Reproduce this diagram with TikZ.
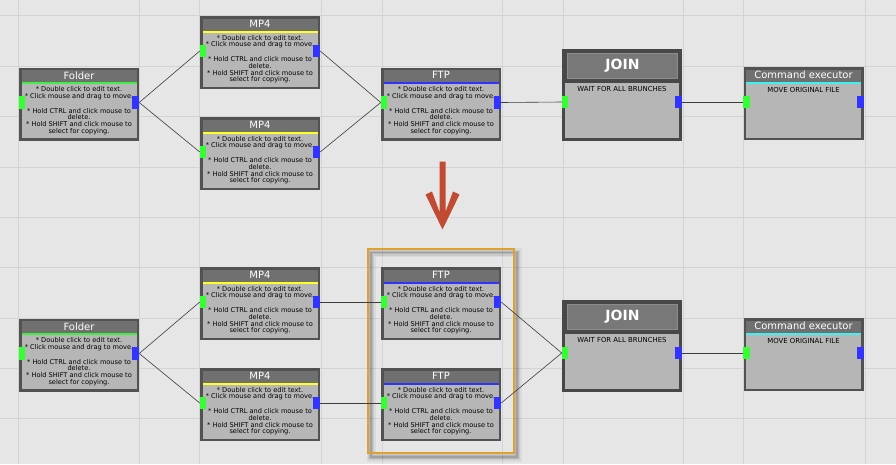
\documentclass[tikz,border=0pt]{standalone}
\usepackage{fontspec}
\setmainfont{DejaVu Sans}
\definecolor{bg}{RGB}{230,230,230}
\definecolor{gridc}{RGB}{211,211,211}
\definecolor{frameC}{RGB}{82,82,82}
\definecolor{joinFrame}{RGB}{72,72,72}
\definecolor{titleC}{RGB}{112,112,112}
\definecolor{joinTitleC}{RGB}{120,120,120}
\definecolor{joinTitleEdge}{RGB}{140,140,140}
\definecolor{bodyC}{RGB}{182,182,182}
\definecolor{portG}{RGB}{51,255,51}
\definecolor{portB}{RGB}{51,51,255}
\definecolor{lnGreen}{RGB}{64,240,64}
\definecolor{lnYellow}{RGB}{255,255,40}
\definecolor{lnBlue}{RGB}{50,50,255}
\definecolor{lnCyan}{RGB}{64,240,240}
\definecolor{arrowC}{RGB}{192,74,50}
\definecolor{orangeC}{RGB}{224,160,48}
\definecolor{connC}{RGB}{60,60,60}
\tikzset{
  framebox/.style={fill=frameC, draw=none, inner sep=0pt, anchor=north west,
    minimum width=120pt, minimum height=73pt},
  titletext/.style={text=white, inner sep=0pt, font=\fontsize{10}{11}\selectfont},
  bodytext/.style={text=black, inner sep=0pt, anchor=north, align=center,
    font=\fontsize{6.6}{6.7}\selectfont},
  smalltext/.style={text=black, inner sep=0pt, font=\fontsize{6.9}{7}\selectfont},
  jointitle/.style={fill=joinTitleC, draw=joinTitleEdge, line width=1pt, inner sep=0pt,
    minimum width=110pt, minimum height=25pt, text=white,
    font=\fontsize{14}{15}\selectfont\bfseries},
  inport/.style={fill=portG, draw=none, inner sep=0pt, minimum width=6.5pt, minimum height=12.5pt},
  outport/.style={fill=portB, draw=none, inner sep=0pt, minimum width=7pt, minimum height=12.5pt},
  conn/.style={draw=connC, line width=0.6pt},
  gridline/.style={draw=gridc, line width=1pt}
}
\newcommand{\helptext}{{*} Double click to edit text.\\{*} Click mouse and drag to move.\\[8.2pt]{*} Hold CTRL and click mouse to\\delete.\\{*} Hold SHIFT and click mouse to\\select for copying.}
% name, x, y, title, line colour, extra code
\newcommand{\stdblock}[6]{%
\begin{scope}[shift={(#2,#3)}]
\node[framebox] (#1) at (0,0) {};
\fill[titleC] (2.5,2.5) rectangle (117.5,14.5);
\fill[#5] (2.5,14.5) rectangle (117.5,16.5);
\fill[bodyC] (2.5,16.5) rectangle (117.5,70.5);
\node[titletext] (#1-title) at (60,7.8) {#4};
#6
\node[inport] (#1-in) at (3.2,35) {};
\node[outport] (#1-out) at (116.5,35) {};
\end{scope}}
\newcommand{\joinblock}[3]{%
\begin{scope}[shift={(#2,#3)}]
\node[framebox, fill=joinFrame, minimum height=92pt] (#1) at (0,0) {};
\fill[bodyC] (3,34) rectangle (117,89);
\node[jointitle] (#1-title) at (60.5,17) {JOIN};
\node[smalltext] (#1-body) at (60,40) {WAIT FOR ALL BRUNCHES};
\node[inport] (#1-in) at (3.2,53) {};
\node[outport] (#1-out) at (116.5,53) {};
\end{scope}}
\begin{document}
\begin{tikzpicture}[x=1pt,y=-1pt]
\fill[bg] (0,0) rectangle (896,464);
\useasboundingbox (0,0) rectangle (896,464);
% grid
\foreach \gx in {18.5,139,199.5,321,382,502,563,683,743.5,865}
  \draw[gridline] (\gx,0) -- (\gx,464);
\foreach \gy in {15.5,66,116.5,167,217,267.5,318,368,418.5}
  \draw[gridline] (0,\gy) -- (896,\gy);

% ===== top row =====
\stdblock{f1}{19}{67.5}{Folder}{lnGreen}{\node[bodytext] (f1-body) at (60,18.8) {\helptext};}
\stdblock{m1}{200}{16}{MP4}{lnYellow}{\node[bodytext] (m1-body) at (60,18.8) {\helptext};}
\stdblock{m2}{200}{117}{MP4}{lnYellow}{\node[bodytext] (m2-body) at (60,18.8) {\helptext};}
\stdblock{t1}{381}{67.5}{FTP}{lnBlue}{\node[bodytext] (t1-body) at (60,18.8) {\helptext};}
\joinblock{j1}{562}{49}
\stdblock{c1}{743.5}{67}{Command executor}{lnCyan}{\node[smalltext] (c1-body) at (60,22.5) {MOVE ORIGINAL FILE};}

\draw[conn] (f1-out.east) -- (m1-in.west);
\draw[conn] (f1-out.east) -- (m2-in.west);
\draw[conn] (m1-out.east) -- (t1-in.west);
\draw[conn] (m2-out.east) -- (t1-in.west);
\draw[conn] (t1-out.east) -- (j1-in.west);
\draw[conn] (j1-out.east) -- (c1-in.west);

% ===== arrow =====
\fill[arrowC] (439.5,161.5) -- (445.5,161.5) -- (445.5,212) -- (453,191.5) -- (459.5,194.5)
  -- (442.5,229.5) -- (425.5,194.5) -- (432,191.5) -- (439.5,212) -- cycle;

% ===== highlight frame with shadow =====
\foreach \w/\o in {9/0.05,6/0.07,3.5/0.09,1.5/0.12}
  \draw[black, opacity=\o, line width=\w pt] (371,252.5) rectangle (517,457);

% ===== bottom row =====
\stdblock{f2}{19}{318.5}{Folder}{lnGreen}{\node[bodytext] (f2-body) at (60,18.8) {\helptext};}
\stdblock{m3}{200}{267}{MP4}{lnYellow}{\node[bodytext] (m3-body) at (60,18.8) {\helptext};}
\stdblock{m4}{200}{368}{MP4}{lnYellow}{\node[bodytext] (m4-body) at (60,18.8) {\helptext};}
\stdblock{t2}{381}{267}{FTP}{lnBlue}{\node[bodytext] (t2-body) at (60,18.8) {\helptext};}
\stdblock{t3}{381}{368}{FTP}{lnBlue}{\node[bodytext] (t3-body) at (60,18.8) {\helptext};}
\joinblock{j2}{562}{300}
\stdblock{c2}{743.5}{318}{Command executor}{lnCyan}{\node[smalltext] (c2-body) at (60,22.5) {MOVE ORIGINAL FILE};}

\draw[orangeC, line width=2pt] (367.5,248.5) rectangle (513.5,453);

\draw[conn] (f2-out.east) -- (m3-in.west);
\draw[conn] (f2-out.east) -- (m4-in.west);
\draw[conn] (m3-out.east) -- (t2-in.west);
\draw[conn] (m4-out.east) -- (t3-in.west);
\draw[conn] (t2-out.east) -- (j2-in.west);
\draw[conn] (t3-out.east) -- (j2-in.west);
\draw[conn] (j2-out.east) -- (c2-in.west);
\end{tikzpicture}
\end{document}
